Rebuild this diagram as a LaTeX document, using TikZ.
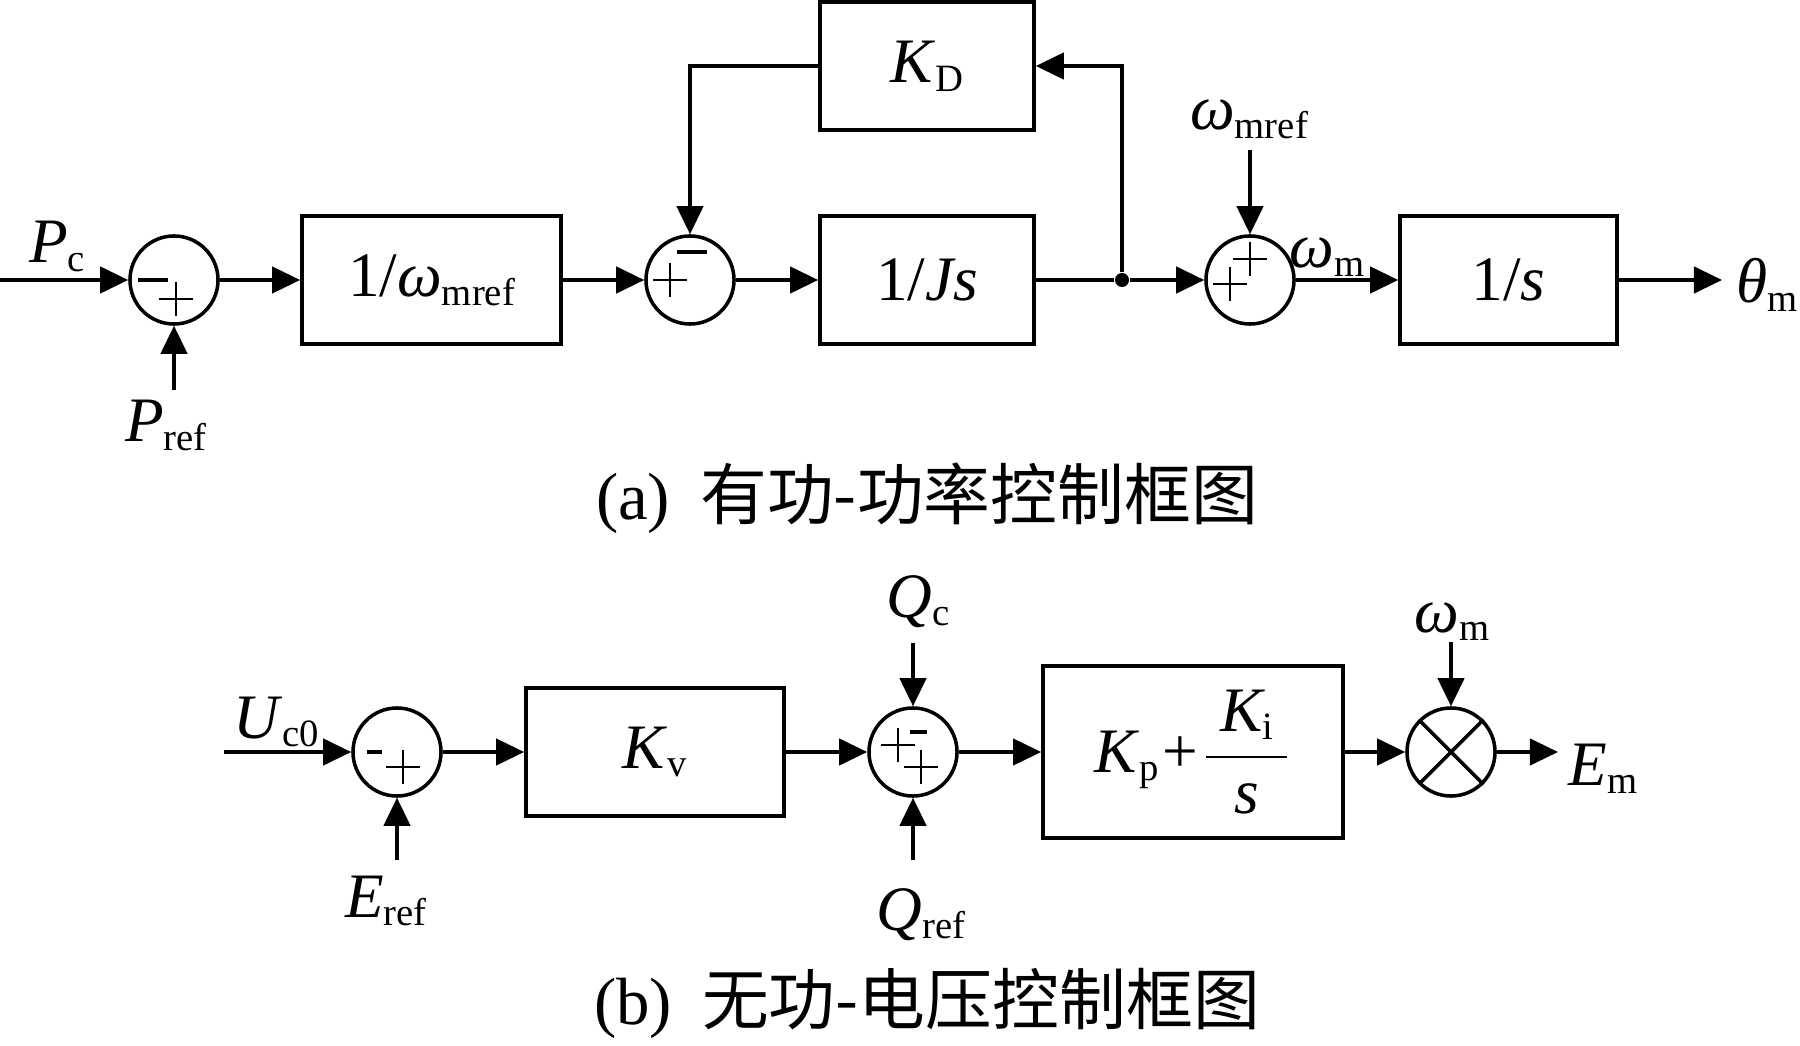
\documentclass[tikz,border=0pt]{standalone}
\usepackage{fontspec}
\usepackage{amsmath}
\setmainfont{Liberation Serif}
\newfontfamily\cjkfont{Noto Sans CJK SC}
\usetikzlibrary{arrows.meta, positioning, calc}
\definecolor{mydark}{RGB}{0,0,0}
\newcommand{\mainsize}{\fontsize{18}{21}\selectfont}
\newcommand{\vsub}[2]{\textit{#1}\raisebox{-2.5pt}{\fontsize{11}{12}\selectfont #2}}
\newcommand{\sgnplus}[3]{\draw[sign] ([shift={(#2-17,#3)}]#1.center) -- ++(34,0) ([shift={(#2,#3-17)}]#1.center) -- ++(0,34);}
\newcommand{\sgnminus}[4]{\draw[sign, line width=1.3pt] ([shift={(#2-#4/2,#3)}]#1.center) -- ++(#4,0);}
\tikzset{
  block/.style={rectangle, draw=mydark, line width=1pt, minimum height=1.28cm,
    inner sep=0pt, font=\mainsize},
  sumjunc/.style={circle, draw=mydark, line width=1pt, minimum size=0.88cm, inner sep=0pt},
  signal/.style={anchor=base, font=\mainsize, inner sep=0pt},
  caption/.style={font=\fontsize{19}{22}\selectfont},
  sign/.style={line width=0.7pt, color=mydark},
  arrow/.style={-{Triangle[length=8pt,width=7.5pt]}, line width=1pt, color=mydark},
  line/.style={line width=1pt, color=mydark}
}
\begin{document}
\begin{tikzpicture}[x=0.01cm, y=-0.01cm]
  \useasboundingbox (0,0) rectangle (1800,1046);

  % (a) active power loop
  \node[sumjunc] (s1) at (174,280) {};
  \node[block, minimum width=2.59cm] (gain) at (431.5,280) {1/\vsub{ω}{mref}};
  \node[sumjunc] (s2) at (690,280) {};
  \node[block, minimum width=2.14cm] (inertia) at (927,280) {1/\textit{Js}};
  \node[block, minimum width=2.14cm] (damp) at (927,66) {\vsub{K}{D}};
  \node[circle, fill=mydark, inner sep=0pt, minimum size=0.14cm] (dot) at (1122,280) {};
  \node[sumjunc] (s3) at (1250,280) {};
  \node[block, minimum width=2.17cm] (integ) at (1508.5,280) {1/\textit{s}};

  \sgnminus{s1}{-21}{0}{30}
  \sgnplus{s1}{2}{19}
  \sgnminus{s2}{2}{-28}{30}
  \sgnplus{s2}{-20}{0}
  \sgnplus{s3}{0}{-21}
  \sgnplus{s3}{-20}{4}

  \coordinate (pcin) at (0,280);
  \coordinate (prefin) at (174,390);
  \coordinate (wrefin) at (1250,150);
  \coordinate (thout) at (1722,280);

  \node[signal] (pc) at (57,263) {\vsub{P}{c}};
  \node[signal] (pref) at (166,442) {\vsub{P}{ref}};
  \node[signal] (wref) at (1249,130) {\vsub{ω}{mref}};
  \node[signal] (wm) at (1327,268) {\vsub{ω}{m}};
  \node[signal] (thm) at (1767,303) {\vsub{θ}{m}};

  \draw[arrow] (pcin) -- (s1);
  \draw[arrow] (prefin) -- (s1);
  \draw[arrow] (s1) -- (gain);
  \draw[arrow] (gain) -- (s2);
  \draw[arrow] (s2) -- (inertia);
  \draw[line] (inertia) -- (dot);
  \draw[arrow] (dot) -- (s3);
  \draw[arrow] (dot) |- (damp.east);
  \draw[arrow] (damp.west) -| (s2.north);
  \draw[arrow] (wrefin) -- (s3);
  \draw[arrow] (s3) -- (integ);
  \draw[arrow] (integ) -- (thout);

  \node[caption] (capa) at (927,498) {(a)\hspace{3mm}{\cjkfont 有功-功率控制框图}};

  % (b) reactive power loop
  \node[sumjunc] (s4) at (397,752) {};
  \node[block, minimum width=2.58cm] (kv) at (655,752) {\vsub{K}{v}};
  \node[sumjunc] (s5) at (913,752) {};
  \node[block, minimum width=3.0cm, minimum height=1.72cm] (pi) at (1193,752)
    {\vsub{K}{p}\hspace{1pt}+\hspace{1pt}$\dfrac{\hspace{4pt}\vsub{K}{i}\hspace{4pt}}{\textit{s}}$};
  \node[sumjunc] (mul) at (1451,752) {};
  \draw[line] (mul.north west) -- (mul.south east) (mul.north east) -- (mul.south west);

  \sgnminus{s4}{-23}{0}{15}
  \sgnplus{s4}{6}{15}
  \sgnplus{s5}{-15}{-7}
  \sgnminus{s5}{5}{-20}{17}
  \sgnplus{s5}{8}{15}

  \coordinate (ucin) at (224,752);
  \coordinate (erefin) at (397,860);
  \coordinate (qcin) at (913,643);
  \coordinate (qrefin) at (913,860);
  \coordinate (wmin) at (1451,642);
  \coordinate (emout) at (1558,752);

  \node[signal] (uc) at (276,738) {\vsub{U}{c0}};
  \node[signal] (eref) at (386,917) {\vsub{E}{ref}};
  \node[signal] (qc) at (918,617) {\vsub{Q}{c}};
  \node[signal] (qref) at (921,930) {\vsub{Q}{ref}};
  \node[signal] (wm2) at (1452,632) {\vsub{ω}{m}};
  \node[signal] (em) at (1603,785) {\vsub{E}{m}};

  \draw[arrow] (ucin) -- (s4);
  \draw[arrow] (erefin) -- (s4);
  \draw[arrow] (s4) -- (kv);
  \draw[arrow] (kv) -- (s5);
  \draw[arrow] (qcin) -- (s5);
  \draw[arrow] (qrefin) -- (s5);
  \draw[arrow] (s5) -- (pi);
  \draw[arrow] (pi) -- (mul);
  \draw[arrow] (wmin) -- (mul);
  \draw[arrow] (mul) -- (emout);

  \node[caption] (capb) at (927,1003) {(b)\hspace{3mm}{\cjkfont 无功-电压控制框图}};
\end{tikzpicture}
\end{document}
